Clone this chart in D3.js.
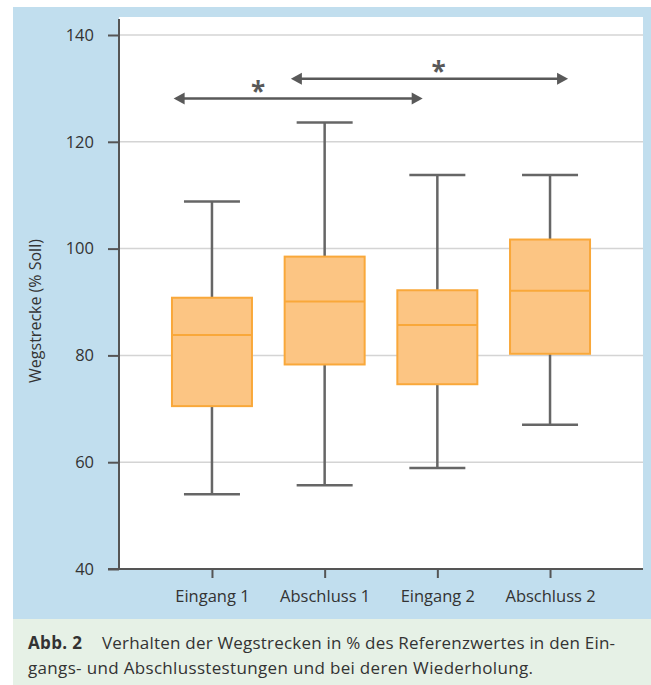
<!DOCTYPE html>
<html>
<head>
<meta charset="utf-8">
<script src="https://cdn.jsdelivr.net/npm/d3@7"></script>
<style>
  html, body { margin: 0; padding: 0; background: #fff; }
  svg { display: block; }
  text { font-family: "Open Sans", "Noto Sans", sans-serif; fill: #333; }
</style>
</head>
<body>
<svg id="chart" width="651" height="685"></svg>
<script>
// ---- data ----
const categories = ["Eingang 1", "Abschluss 1", "Eingang 2", "Abschluss 2"];
const whiskerLow  = [54, 55.7, 58.9, 67];
const q1          = [70.5, 78.3, 74.6, 80.3];
const medians     = [83.8, 90.1, 85.7, 92.1];
const q3          = [90.8, 98.5, 92.2, 101.7];
const whiskerHigh = [108.8, 123.6, 113.8, 113.8];
const yTicks = [40, 60, 80, 100, 120, 140];
// significance arrows: start/end in category-index units, level in % Soll
const arrowFrom  = [-0.34, 0.70];
const arrowTo    = [1.87, 3.16];
const arrowLevel = [128.1, 131.8];
const starPos    = [0.41, 2.01];
const yLabel = "Wegstrecke (% Soll)";
const captionBold = "Abb. 2";
const captionLine1 = "Verhalten der Wegstrecken in % des Referenzwertes in den Ein-";
const captionLine2 = "gangs- und Abschlusstestungen und bei deren Wiederholung.";

// ---- layout ----
const svg = d3.select("#chart");
const plot = { left: 119, right: 643, top: 17, bottom: 569 };

svg.append("rect").attr("x", 13).attr("y", 7).attr("width", 638).attr("height", 612).attr("fill", "#c1deee");
svg.append("rect").attr("x", 13).attr("y", 619).attr("width", 638).attr("height", 66).attr("fill", "#e6f1e6");
svg.append("rect").attr("x", plot.left).attr("y", plot.top)
  .attr("width", plot.right - plot.left).attr("height", plot.bottom - plot.top).attr("fill", "#fff");

const y = d3.scaleLinear().domain([40, 140]).range([569, 35]);
const x = d3.scalePoint().domain(categories).range([plot.left, plot.right]).padding(0.825);
const xi = d3.scaleLinear().domain([0, categories.length - 1])
  .range([x(categories[0]), x(categories[categories.length - 1])]);

// grid
svg.append("g").selectAll("line").data(yTicks.filter(d => d > 40)).join("line")
  .attr("x1", plot.left).attr("x2", plot.right)
  .attr("y1", d => y(d)).attr("y2", d => y(d))
  .attr("stroke", "#d4d4d4").attr("stroke-width", 1.5);

// y axis
const yAxis = svg.append("g").attr("transform", `translate(${plot.left},0)`)
  .call(d3.axisLeft(y).tickValues(yTicks).tickSize(11).tickPadding(14));
yAxis.select(".domain").attr("d", `M0,19V${plot.bottom}`);
yAxis.selectAll("line, path").attr("stroke", "#555").attr("stroke-width", 2);
yAxis.selectAll("text").attr("font-size", 16.5).attr("fill", "#333")
  .attr("font-family", '"Open Sans", sans-serif');

// x axis
const xAxis = svg.append("g").attr("transform", `translate(0,${plot.bottom})`)
  .call(d3.axisBottom(x).tickSize(9).tickPadding(12));
xAxis.select(".domain").attr("d", `M108,0H${plot.right}`);
xAxis.selectAll("line, path").attr("stroke", "#555").attr("stroke-width", 2);
xAxis.selectAll("text").attr("font-size", 16.5).attr("fill", "#333")
  .attr("font-family", '"Open Sans", sans-serif');

// y label
svg.append("text")
  .attr("transform", `translate(41,311) rotate(-90)`)
  .attr("text-anchor", "middle").attr("font-size", 16)
  .text(yLabel);

// boxes
const boxW = 80, capW = 56;
const g = svg.append("g");
categories.forEach((c, i) => {
  const cx = x(c);
  g.append("line").attr("x1", cx).attr("x2", cx)
    .attr("y1", y(whiskerLow[i])).attr("y2", y(whiskerHigh[i]))
    .attr("stroke", "#666").attr("stroke-width", 2.5);
  [whiskerLow[i], whiskerHigh[i]].forEach(v => {
    g.append("line").attr("x1", cx - capW / 2).attr("x2", cx + capW / 2)
      .attr("y1", y(v)).attr("y2", y(v))
      .attr("stroke", "#666").attr("stroke-width", 2.5);
  });
  g.append("rect").attr("x", cx - boxW / 2).attr("y", y(q3[i]))
    .attr("width", boxW).attr("height", y(q1[i]) - y(q3[i]))
    .attr("fill", "#fcc583").attr("stroke", "#f9a83a").attr("stroke-width", 2);
  g.append("line").attr("x1", cx - boxW / 2).attr("x2", cx + boxW / 2)
    .attr("y1", y(medians[i])).attr("y2", y(medians[i]))
    .attr("stroke", "#f9a83a").attr("stroke-width", 2);
});

// arrows
const ag = svg.append("g");
arrowFrom.forEach((f, i) => {
  const x1 = xi(f), x2 = xi(arrowTo[i]), yy = y(arrowLevel[i]);
  const head = 11, hh = 6;
  ag.append("line").attr("x1", x1 + head - 1).attr("x2", x2 - head + 1)
    .attr("y1", yy).attr("y2", yy).attr("stroke", "#595959").attr("stroke-width", 2.6);
  ag.append("path").attr("d", `M${x1},${yy}L${x1 + head},${yy - hh}L${x1 + head},${yy + hh}Z`).attr("fill", "#595959");
  ag.append("path").attr("d", `M${x2},${yy}L${x2 - head},${yy - hh}L${x2 - head},${yy + hh}Z`).attr("fill", "#595959");
  ag.append("text").attr("x", xi(starPos[i])).attr("y", yy + 2)
    .attr("text-anchor", "middle").attr("font-size", 26).attr("font-weight", "bold")
    .style("fill", "#595959")
    .attr("font-family", '"DejaVu Sans", sans-serif')
    .text("*");
});

// caption
const cap = svg.append("text").attr("x", 28).attr("y", 649).attr("font-size", 17);
cap.append("tspan").attr("font-weight", "bold").attr("textLength", 54).text(captionBold);
cap.append("tspan").attr("x", 102).attr("textLength", 513).attr("lengthAdjust", "spacing").text(captionLine1);
svg.append("text").attr("x", 28).attr("y", 674).attr("font-size", 17)
  .attr("textLength", 505).attr("lengthAdjust", "spacing").text(captionLine2);
</script>
</body>
</html>
